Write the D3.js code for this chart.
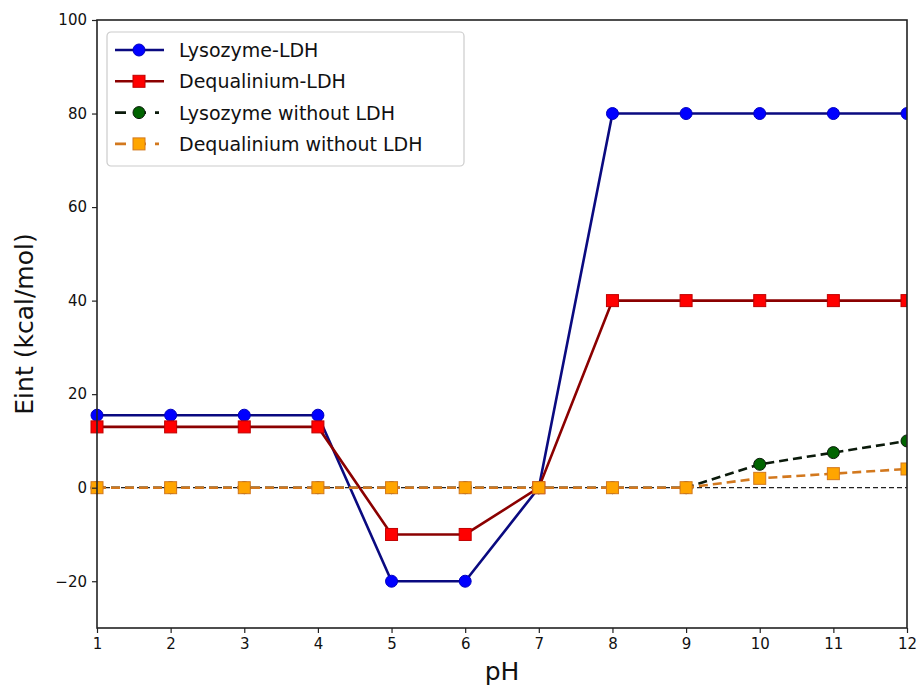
<!DOCTYPE html>
<html>
<head>
<meta charset="utf-8">
<script src="https://cdn.jsdelivr.net/npm/d3@7"></script>
<style>
  body { margin: 0; background: #fff; }
  text { font-family: "DejaVu Sans", sans-serif; fill: #111; }
</style>
</head>
<body>
<svg id="chart"></svg>
<script>
// data
var ph = [1, 2, 3, 4, 5, 6, 7, 8, 9, 10, 11, 12];
var lysozymeLDH = [15.5, 15.5, 15.5, 15.5, -20, -20, 0, 80, 80, 80, 80, 80];
var dequaliniumLDH = [13, 13, 13, 13, -10, -10, 0, 40, 40, 40, 40, 40];
var lysozymeNoLDH = [0, 0, 0, 0, 0, 0, 0, 0, 0, 5, 7.5, 10];
var dequaliniumNoLDH = [0, 0, 0, 0, 0, 0, 0, 0, 0, 2, 3, 4];
var xTicks = [1, 2, 3, 4, 5, 6, 7, 8, 9, 10, 11, 12];
var yTicks = [-20, 0, 20, 40, 60, 80, 100];
var seriesNames = ['Lysozyme-LDH', 'Dequalinium-LDH', 'Lysozyme without LDH', 'Dequalinium without LDH'];

function main() {
    const width = 919;
    const height = 689;
    const margin = {left: 97, right: 12, top: 20, bottom: 61};

    const svg = d3.select('#chart')
        .attr('width', width)
        .attr('height', height);

    const x = d3.scaleLinear().domain([1, 12]).range([margin.left, width - margin.right]);
    const y = d3.scaleLinear().domain([-30, 100]).range([height - margin.bottom, margin.top]);

    // series styles
    const series = [
        {name: seriesNames[0], values: lysozymeLDH, line: '#0a0a80', fill: '#0000ff', edge: '#0000c0', shape: 'circle', dash: null},
        {name: seriesNames[1], values: dequaliniumLDH, line: '#8b0000', fill: '#ff0000', edge: '#c00000', shape: 'square', dash: null},
        {name: seriesNames[2], values: lysozymeNoLDH, line: '#0b1a0b', fill: '#006400', edge: '#0b1a0b', shape: 'circle', dash: '9,5'},
        {name: seriesNames[3], values: dequaliniumNoLDH, line: '#d2781e', fill: '#ffa500', edge: '#d2781e', shape: 'square', dash: '9,5'}
    ];

    // zero reference line
    svg.append('line')
        .attr('x1', x(1)).attr('x2', x(12))
        .attr('y1', y(0)).attr('y2', y(0))
        .attr('stroke', '#222')
        .attr('stroke-width', 1.2)
        .attr('stroke-dasharray', '5,3');

    const line = d3.line()
        .x((d, i) => x(ph[i]))
        .y(d => y(d));

    svg.append('clipPath').attr('id', 'clip')
        .append('rect')
        .attr('x', margin.left - 10).attr('y', margin.top)
        .attr('width', width - margin.left - margin.right + 10)
        .attr('height', height - margin.top - margin.bottom);

    const plot = svg.append('g').attr('clip-path', 'url(#clip)');

    function drawMarker(g, s, cx, cy) {
        if (s.shape == 'circle') {
            g.append('circle')
                .attr('cx', cx).attr('cy', cy).attr('r', 6)
                .attr('fill', s.fill)
                .attr('stroke', s.edge)
                .attr('stroke-width', 1);
        } else {
            g.append('rect')
                .attr('x', cx - 6).attr('y', cy - 6)
                .attr('width', 12).attr('height', 12)
                .attr('fill', s.fill)
                .attr('stroke', s.edge)
                .attr('stroke-width', 1);
        }
    }

    series.forEach(function(s) {
        plot.append('path')
            .datum(s.values)
            .attr('d', line)
            .attr('fill', 'none')
            .attr('stroke', s.line)
            .attr('stroke-width', 2.6)
            .attr('stroke-dasharray', s.dash);

        s.values.forEach(function(v, i) {
            drawMarker(plot, s, x(ph[i]), y(v));
        });
    });

    // axes
    const xAxis = svg.append('g')
        .attr('transform', 'translate(0,' + y(-30) + ')')
        .call(d3.axisBottom(x).tickValues(xTicks).tickSize(5).tickPadding(5).tickFormat(d3.format('d')));
    const yAxis = svg.append('g')
        .attr('transform', 'translate(' + x(1) + ',0)')
        .call(d3.axisLeft(y).tickValues(yTicks).tickSize(5).tickPadding(5).tickFormat(d => d < 0 ? '\u2212' + Math.abs(d) : d));

    [xAxis, yAxis].forEach(function(a) {
        a.selectAll('.domain').remove();
        a.selectAll('line').attr('stroke', '#222').attr('stroke-width', 1.2);
        a.selectAll('text').style('font-size', '15px').attr('fill', '#111');
    });

    // frame
    svg.append('rect')
        .attr('x', x(1)).attr('y', y(100))
        .attr('width', x(12) - x(1))
        .attr('height', y(-30) - y(100))
        .attr('fill', 'none')
        .attr('stroke', '#222')
        .attr('stroke-width', 1.6);

    // axis labels
    svg.append('text')
        .attr('x', (x(1) + x(12)) / 2)
        .attr('y', 680)
        .attr('text-anchor', 'middle')
        .style('font-size', '25px')
        .text('pH');

    svg.append('text')
        .attr('transform', 'translate(33,' + (y(-30) + y(100)) / 2 + ') rotate(-90)')
        .attr('text-anchor', 'middle')
        .style('font-size', '25px')
        .text('Eint (kcal/mol)');

    // legend
    const legend = svg.append('g').attr('transform', 'translate(107,32)');
    legend.append('rect')
        .attr('width', 357).attr('height', 134)
        .attr('rx', 4)
        .attr('fill', 'white')
        .attr('fill-opacity', 0.85)
        .attr('stroke', '#ccc')
        .attr('stroke-width', 1.2);

    series.forEach(function(s, i) {
        const ly = 18 + i * 31.3;
        legend.append('line')
            .attr('x1', 8).attr('x2', 57)
            .attr('y1', ly).attr('y2', ly)
            .attr('stroke', s.line)
            .attr('stroke-width', 2.6)
            .attr('stroke-dasharray', s.dash ? '11,8,12,9,4' : null);
        drawMarker(legend, s, 32, ly);
        legend.append('text')
            .attr('x', 72).attr('y', ly + 7)
            .style('font-size', '19px')
            .text(s.name);
    });
}
main();
</script>
</body>
</html>
